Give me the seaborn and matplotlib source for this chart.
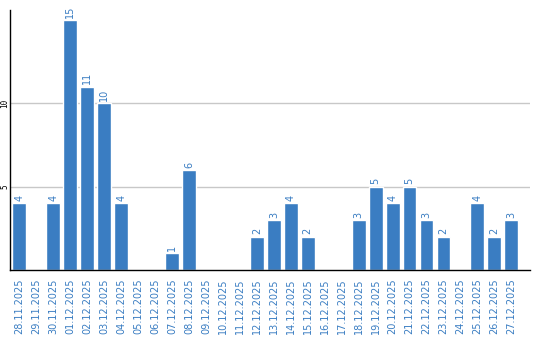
import matplotlib
matplotlib.use("Agg")
import matplotlib.pyplot as plt
import seaborn as sns
import pandas as pd

dates = ["28.11.2025", "29.11.2025", "30.11.2025", "01.12.2025", "02.12.2025",
         "03.12.2025", "04.12.2025", "05.12.2025", "06.12.2025", "07.12.2025",
         "08.12.2025", "09.12.2025", "10.12.2025", "11.12.2025", "12.12.2025",
         "13.12.2025", "14.12.2025", "15.12.2025", "16.12.2025", "17.12.2025",
         "18.12.2025", "19.12.2025", "20.12.2025", "21.12.2025", "22.12.2025",
         "23.12.2025", "24.12.2025", "25.12.2025", "26.12.2025", "27.12.2025"]
counts = [4, 0, 4, 15, 11, 10, 4, 0, 0, 1, 6, 0, 0, 0, 2, 3, 4, 2, 0, 0,
          3, 5, 4, 5, 3, 2, 0, 4, 2, 3]
yticks = [5, 10]

bar_color = "#3a7dc2"
text_color = "#3a7dc2"

sns.set_theme(style="white")
plt.rcParams['font.family'] = ['DejaVu Sans']

df = pd.DataFrame({"date": dates, "count": counts})

fig = plt.figure(figsize=(5.4, 3.4), dpi=100)
ax = fig.add_axes([10/540, 70/340, 520/540, 260/340])
sns.barplot(data=df, x="date", y="count", color=bar_color, saturation=1,
            width=0.82, ax=ax, order=dates)

for i, v in enumerate(counts):
    if v > 0:
        ax.text(i, v + 0.15, str(v), rotation=90, ha="center", va="bottom",
                fontsize=7, color=text_color)

ax.set_xlim(-0.55, 30.1)
ax.set_ylim(0, 15.6)
ax.set_yticks(yticks)
ax.set_yticklabels([str(t) for t in yticks], rotation=90, va="center",
                   fontsize=5.5, color="black", family="DejaVu Sans Mono")
ax.set_xticks(range(len(dates)))
ax.set_xticklabels(dates, rotation=90, fontsize=7, color=text_color)
ax.tick_params(axis="x", length=0, pad=6)
ax.tick_params(axis="y", length=0, pad=0.5)
ax.yaxis.grid(True, color="#c8c8c8", linewidth=1)
ax.set_axisbelow(True)
ax.set_xlabel("")
ax.set_ylabel("")
for s in ["top", "right"]:
    ax.spines[s].set_visible(False)
for s in ["left", "bottom"]:
    ax.spines[s].set_color("black")
    ax.spines[s].set_linewidth(1)

fig.savefig("out.png", dpi=100)
